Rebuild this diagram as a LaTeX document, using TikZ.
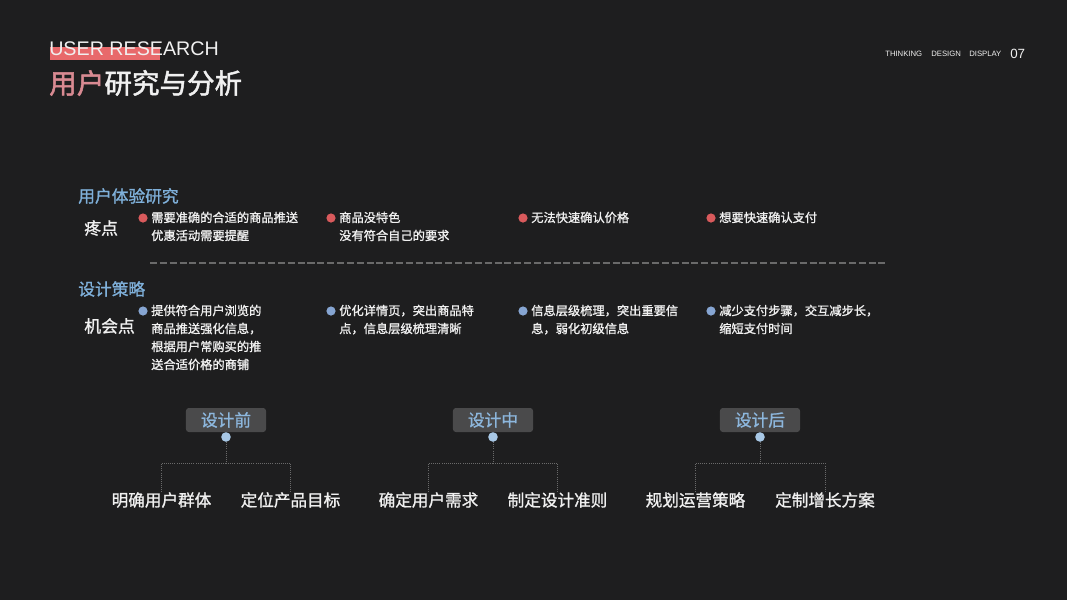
\documentclass[tikz,border=0pt]{standalone}
\usepackage{fontspec}
\setmainfont{Liberation Sans}
\newfontfamily\cjk{Noto Sans CJK SC}
\newfontfamily\cjkmid[FakeBold=1.2]{Noto Sans CJK SC}
\newfontfamily\cjkhead[FakeBold=1.8]{Noto Sans CJK SC}
\definecolor{BgDark}{HTML}{1E1E1F}
\definecolor{AccentRed}{HTML}{E8696B}
\definecolor{TitlePink}{HTML}{D98A92}
\definecolor{HeadBlue}{HTML}{7FB0DA}
\definecolor{DotRed}{HTML}{D95A5C}
\definecolor{DotBlue}{HTML}{86A5D2}
\definecolor{TagGray}{HTML}{4A4A4B}
\definecolor{TagBlue}{HTML}{8DB7DD}
\definecolor{PinBlue}{HTML}{A8C8E6}
\definecolor{LineGray}{HTML}{6A6A6A}
\definecolor{TextWhite}{HTML}{F0F0F0}
\usetikzlibrary{positioning}

\begin{document}
\begin{tikzpicture}[x=0.025cm, y=-0.025cm,
  every node/.style={inner sep=0pt, text=TextWhite},
  heading/.style={font=\cjkmid\fontsize{11.9pt}{14pt}\selectfont, text=HeadBlue, anchor=west},
  rowlabel/.style={font=\cjkmid\fontsize{12pt}{14pt}\selectfont, anchor=west},
  bullettext/.style={font=\cjkmid\fontsize{8.7pt}{12.8pt}\selectfont, align=left, anchor=north west},
  reddot/.style={circle, fill=DotRed, minimum size=0.23cm},
  bluedot/.style={circle, fill=DotBlue, minimum size=0.23cm},
  phasetag/.style={rounded corners=2pt, fill=TagGray, minimum width=2cm, minimum height=0.6cm,
    text=TagBlue, font=\cjkmid\fontsize{11.9pt}{14pt}\selectfont},
  pin/.style={circle, fill=PinBlue, minimum size=0.24cm},
  goal/.style={font=\cjkmid\fontsize{11.8pt}{14pt}\selectfont},
  bracket/.style={LineGray, densely dotted, line width=0.5pt},
  topnav/.style={font=\fontsize{5.5pt}{6pt}\selectfont, anchor=west, text=TextWhite}]

% background
\fill[BgDark] (0,0) rectangle (1067,600);

% header
\fill[AccentRed] (50,47) rectangle (160,60);
\node[font=\fontsize{14pt}{16pt}\selectfont, anchor=base west] (entitle) at (49,55) {USER RESEARCH};
\node[font=\cjkhead\fontsize{19.6pt}{22pt}\selectfont, anchor=west] (title) at (49,83)
  {\textcolor{TitlePink}{用户}研究与分析};
\node[topnav] (navA) at (885,54) {THINKING};
\node[topnav] (navB) at (931,54) {DESIGN};
\node[topnav] (navC) at (969,54) {DISPLAY};
\node[font=\fontsize{9.5pt}{10pt}\selectfont, anchor=west] (pageno) at (1010,54) {07};

% pain points
\node[heading] (uxhead) at (78,196) {用户体验研究};
\node[rowlabel] (pain) at (84,228) {疼点};
\node[reddot] (p1) at (143,218) {};
\node[bullettext] (p1t) at (151,211.5) {需要准确的合适的商品推送\\优惠活动需要提醒};
\node[reddot] (p2) at (331,218) {};
\node[bullettext] (p2t) at (339,211.5) {商品没特色\\没有符合自己的要求};
\node[reddot] (p3) at (523,218) {};
\node[bullettext] (p3t) at (531,211.5) {无法快速确认价格};
\node[reddot] (p4) at (711,218) {};
\node[bullettext] (p4t) at (719,211.5) {想要快速确认支付};

\coordinate (sepL) at (150,263);
\coordinate (sepR) at (886,263);
\draw[LineGray, dashed, dash pattern=on 5pt off 2pt, line width=0.8pt] (sepL) -- (sepR);

% opportunities
\node[heading] (stratHead) at (78,289) {设计策略};
\node[rowlabel] (chance) at (84,326) {机会点};
\node[bluedot] (o1) at (143,311) {};
\node[bullettext] (o1t) at (151,304.5) {提供符合用户浏览的\\商品推送强化信息，\\根据用户常购买的推\\送合适价格的商铺};
\node[bluedot] (o2) at (331,311) {};
\node[bullettext] (o2t) at (339,304.5) {优化详情页，突出商品特\\点，信息层级梳理清晰};
\node[bluedot] (o3) at (523,311) {};
\node[bullettext] (o3t) at (531,304.5) {信息层级梳理，突出重要信\\息，弱化初级信息};
\node[bluedot] (o4) at (711,311) {};
\node[bullettext] (o4t) at (719,304.5) {减少支付步骤，交互减步长，\\缩短支付时间};

% phases
\node[phasetag] (before) at (226,420) {设计前};
\node[phasetag] (during) at (493,420) {设计中};
\node[phasetag] (after) at (760,420) {设计后};

\foreach \ph/\cx/\la/\lb/\xa/\xb in {before/226/明确用户群体/定位产品目标/161.5/290.5,
                                  during/493/确定用户需求/制定设计准则/428.5/557.5,
                                  after/760/规划运营策略/定制增长方案/695.5/825}{
  \node[pin] (\ph-pin) at (\cx,437) {};
  \node[goal] (\ph-a) at (\xa,500) {\la};
  \node[goal] (\ph-b) at (\xb,500) {\lb};
  \draw[bracket] (\ph-pin) -- (\cx,463) -| (\ph-a.north);
  \draw[bracket] (\cx,463) -| (\ph-b.north);
}
\end{tikzpicture}
\end{document}
